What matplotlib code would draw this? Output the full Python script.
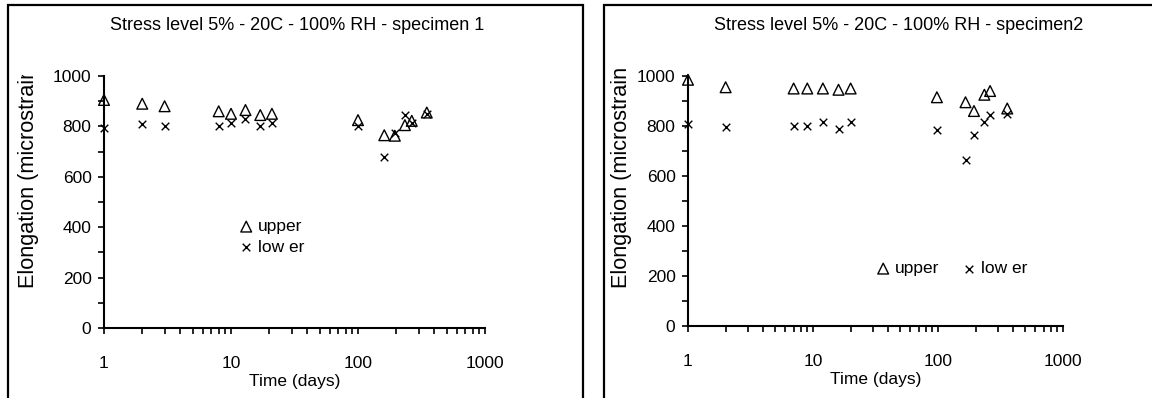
import matplotlib
matplotlib.use("Agg")
import matplotlib.pyplot as plt
from matplotlib.patches import Rectangle
from matplotlib.transforms import Bbox
from matplotlib.ticker import FixedLocator, LogLocator, NullFormatter, FuncFormatter

plt.rcParams['font.family'] = ['Liberation Sans', 'DejaVu Sans']

# specimen 1
time_1 = [1, 2, 3, 8, 10, 13, 17, 21, 100, 161, 195, 234, 265, 348]
upper_1 = [905, 890, 880, 860, 850, 865, 845, 850, 825, 765, 763, 805, 822, 855]
lower_1 = [795, 810, 800, 800, 815, 830, 800, 815, 800, 680, 775, 845, 815, 850]

# specimen 2
time_2 = [1, 2, 7, 9, 12, 16, 20, 98, 166, 194, 235, 261, 358]
upper_2 = [985, 955, 950, 950, 950, 945, 950, 915, 895, 860, 925, 940, 870]
lower_2 = [808, 795, 800, 800, 815, 790, 815, 785, 665, 765, 815, 845, 848]

titles = ["Stress level 5% - 20C - 100% RH - specimen 1",
          "Stress level 5% - 20C - 100% RH - specimen2"]
ylabel = "Elongation (microstrain)"
xlabel = "Time (days)"
yticks = [0, 200, 400, 600, 800, 1000]
xticks = [1, 10, 100, 1000]

W, H = 1152, 398
fig = plt.figure(figsize=(W / 100, H / 100), dpi=100)


def px(x0, y0, x1, y1):
    # pixel box (top-left origin) -> figure fraction [l, b, w, h]
    return [x0 / W, 1 - y1 / H, (x1 - x0) / W, (y1 - y0) / H]


def make_panel(box, t, up, lo, title, frame_x0, frame_x1, title_x,
               ylab_x, ylab_clip, leg_anchor, ncol):
    ax = fig.add_axes(px(*box))
    ax.set_xscale('log')
    ax.set_xlim(1, 1000)
    ax.set_ylim(0, 1000)
    ax.scatter(t, up, marker='^', s=60, facecolors='none',
               edgecolors='black', linewidths=1.0, label='upper', clip_on=False, zorder=3)
    ax.scatter(t, lo, marker='x', s=30, color='black',
               linewidths=1.0, label='low er', clip_on=False, zorder=3)
    for s in ['top', 'right']:
        ax.spines[s].set_visible(False)
    for s in ['left', 'bottom']:
        ax.spines[s].set_linewidth(1.5)
    ax.yaxis.set_major_locator(FixedLocator(yticks))
    ax.yaxis.set_minor_locator(FixedLocator([100, 300, 500, 700, 900]))
    ax.xaxis.set_major_locator(FixedLocator(xticks))
    ax.xaxis.set_minor_locator(LogLocator(base=10, subs=range(2, 10)))
    ax.xaxis.set_minor_formatter(NullFormatter())
    ax.xaxis.set_major_formatter(FuncFormatter(lambda v, p: "%d" % v))
    ax.tick_params(which='both', direction='out', length=4, width=1.2,
                   labelsize=12.5)
    ax.tick_params(axis='x', pad=16)
    ax.tick_params(axis='y', pad=5)
    ax.set_xlabel(xlabel, fontsize=12.5, labelpad=2)

    fig.text(title_x / W, 1 - 26 / H, title, ha='center', va='center',
             fontsize=13)
    # label is cut off at the top in the original chart
    yl = fig.text(ylab_x / W, 1 - 288 / H, ylabel, rotation=90,
                  ha='center', va='bottom', fontsize=15.6)
    yl.set_clip_box(Bbox.from_extents(0, 0, W, H - ylab_clip))
    yl.set_clip_on(True)

    ax.legend(loc='upper left', bbox_to_anchor=(leg_anchor[0] / W, 1 - leg_anchor[1] / H),
              bbox_transform=fig.transFigure, frameon=False, ncol=ncol,
              fontsize=12.5, handlelength=0.6, handletextpad=0.4,
              borderpad=0, borderaxespad=0, labelspacing=0.3,
              columnspacing=1.38, scatterpoints=1)

    fig.add_artist(Rectangle((frame_x0 / W, -0.1), (frame_x1 - frame_x0) / W,
                             1.1 - 5 / H, transform=fig.transFigure,
                             fill=False, edgecolor='black', linewidth=1.6))
    return ax


make_panel((104, 76, 485, 328), time_1, upper_1, lower_1, titles[0],
           8, 583, 297, 29, 75, (241, 219), 1)
make_panel((688, 76, 1063, 326), time_2, upper_2, lower_2, titles[1],
           604, 1200, 899, 622, 69, (878, 261), 2)

fig.savefig("out.png", dpi=100)
